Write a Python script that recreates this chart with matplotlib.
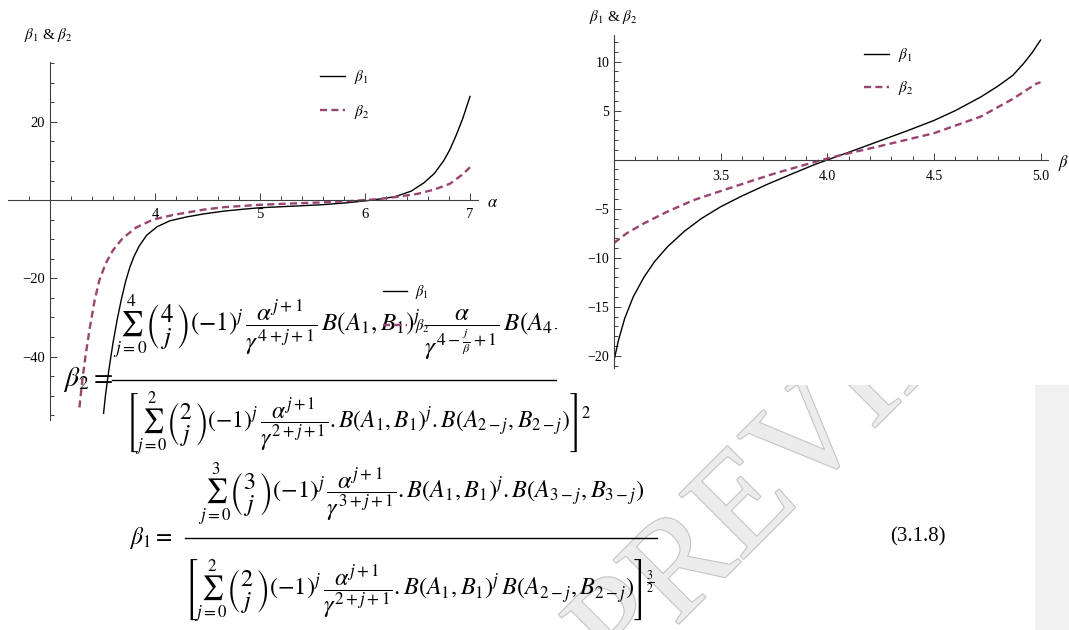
import matplotlib
matplotlib.use("Agg")
import matplotlib.pyplot as plt
import matplotlib.patheffects as pe
from matplotlib.lines import Line2D
from matplotlib.patches import Rectangle
import numpy as np

plt.rcParams['font.family'] = ['Liberation Serif', 'DejaVu Serif']
plt.rcParams['mathtext.fontset'] = 'stix'

# ---- valeurs ----
# panneau gauche : beta1 et beta2 en fonction de alpha
alpha_b1 = [3.51, 3.53, 3.56, 3.60, 3.64, 3.68, 3.72, 3.76, 3.80, 3.85, 3.92, 4.02, 4.14, 4.30, 4.47,
            4.66, 4.85, 5.0, 5.27, 5.58, 5.82, 6.0, 6.13, 6.29, 6.44, 6.56, 6.66, 6.75, 6.81, 6.87, 6.93, 7.0]
b1_alpha = [-54.5, -49.5, -43.5, -36.5, -30.5, -25.3, -20.8, -17.2, -14.4, -11.7, -9.0, -6.8, -5.3, -4.3, -3.5,
            -2.8, -2.3, -1.95, -1.6, -1.2, -0.7, -0.2, 0.25, 0.9, 2.3, 4.4, 6.8, 10.1, 13.0, 16.7, 20.8, 26.5]
alpha_b2 = [3.28, 3.31, 3.34, 3.38, 3.425, 3.47, 3.53, 3.60, 3.69, 3.82, 3.98, 4.17, 4.47, 4.66,
            5.0, 5.27, 5.58, 5.82, 6.0, 6.13, 6.32, 6.5, 6.66, 6.81, 6.87, 6.93, 7.0]
b2_alpha = [-53.0, -45.5, -39.5, -32.5, -25.6, -20.5, -16.2, -12.8, -9.8, -7.0, -5.0, -3.8, -2.4, -1.8,
            -1.2, -0.9, -0.6, -0.3, 0.0, 0.25, 0.9, 1.6, 2.7, 4.2, 5.4, 6.6, 8.4]

# panneau droit : beta1 et beta2 en fonction de beta
beta_b1 = [3.0, 3.02, 3.05, 3.09, 3.14, 3.19, 3.25, 3.33, 3.41, 3.5, 3.6, 3.72, 3.84, 3.94,
           4.01, 4.125, 4.25, 4.375, 4.5, 4.6, 4.72, 4.8, 4.87, 4.92, 4.96, 5.0]
b1_beta = [-20.5, -18.5, -16.2, -14.0, -12.0, -10.4, -8.9, -7.3, -6.0, -4.8, -3.7, -2.5, -1.4, -0.5,
           0.05, 0.95, 1.95, 2.95, 4.0, 5.0, 6.4, 7.5, 8.6, 9.8, 10.9, 12.2]
beta_b2 = [3.0, 3.06, 3.14, 3.25, 3.37, 3.5, 3.64, 3.76, 3.87, 3.97, 4.06, 4.25, 4.5, 4.72, 4.87, 4.98, 5.0]
b2_beta = [-8.5, -7.5, -6.5, -5.3, -4.15, -3.2, -2.2, -1.36, -0.68, -0.05, 0.45, 1.4, 2.7, 4.4, 6.2, 7.75, 7.9]

left_xticks = [4, 5, 6, 7]
left_xlabels = ['4', '5', '6', '7']
left_yticks = [20, -20, -40]
left_ylabels = ['20', '\u221220', '\u221240']
right_xticks = [3.5, 4.0, 4.5, 5.0]
right_xlabels = ['3.5', '4.0', '4.5', '5.0']
right_yticks = [10, 5, -5, -10, -15, -20]
right_ylabels = ['10', '5', '\u22125', '\u221210', '\u221215', '\u221220']

W, H = 1069, 630
fx = lambda px: px / W
fy = lambda py: 1 - py / H

purple = '#994471'
axcol = '#404040'

fig = plt.figure(figsize=(10.69, 6.30), dpi=100)


def style_axes(ax, x0, fs, padx):
    for s in ['top', 'right']:
        ax.spines[s].set_visible(False)
    ax.spines['left'].set_position(('data', x0))
    ax.spines['bottom'].set_position(('data', 0))
    for s in ['left', 'bottom']:
        ax.spines[s].set_color(axcol)
        ax.spines[s].set_linewidth(0.8)
    ax.tick_params(which='both', direction='in', color=axcol, width=0.7, labelsize=fs)
    ax.tick_params(which='major', length=5)
    ax.tick_params(which='minor', length=3)
    ax.tick_params(axis='x', pad=padx)
    ax.tick_params(axis='y', pad=3.5)
    ax.patch.set_visible(False)


# ---------------- panneau gauche ----------------
ax1 = fig.add_axes([fx(8), fy(420), fx(478) - fx(8), fy(62) - fy(420)], zorder=2)
ax1.plot(alpha_b1, b1_alpha, color='black', lw=1.0, label=r'$\beta_1$')
ax1.plot(alpha_b2, b2_alpha, color=purple, lw=1.7, dashes=(3, 1.8), label=r'$\beta_2$')
ax1.set_xlim(2.6, 7.076)
ax1.set_ylim(-56.2, 35.3)
style_axes(ax1, 3, 10.5, 5.5)
ax1.set_xticks(left_xticks)
ax1.set_xticklabels(left_xlabels)
ax1.set_yticks(left_yticks)
ax1.set_yticklabels(left_ylabels)
ax1.set_xticks(np.arange(2.8, 7.01, 0.2), minor=True)
ax1.set_yticks(np.arange(-55, 36, 5), minor=True)
ax1.text(fx(487), fy(203), r'$\alpha$', transform=fig.transFigure, fontsize=12, va='center')
ax1.text(fx(48), fy(35), r'$\beta_1$ & $\beta_2$', transform=fig.transFigure, fontsize=11,
         ha='center', va='center')
ax1.legend(loc='upper left', bbox_to_anchor=(fx(320), fy(68)), bbox_transform=fig.transFigure,
           frameon=False, borderpad=0, borderaxespad=0, handlelength=1.65, handletextpad=0.55,
           labelspacing=1.1, fontsize=11)

# legende parasite (autre image superposee)
fig.legend(handles=ax1.get_lines(), loc='upper left', bbox_to_anchor=(fx(383), fy(283)),
           bbox_transform=fig.transFigure, frameon=False, borderpad=0, borderaxespad=0,
           handlelength=1.65, handletextpad=0.55, labelspacing=1.1, fontsize=10.5)

# ---------------- panneau droit ----------------
ax2 = fig.add_axes([fx(614), fy(368), fx(1048) - fx(614), fy(35) - fy(368)], zorder=5)
ax2.plot(beta_b1, b1_beta, color='black', lw=1.0, label=r'$\beta_1$')
ax2.plot(beta_b2, b2_beta, color=purple, lw=1.7, dashes=(3, 1.8), label=r'$\beta_2$')
ax2.set_xlim(3.0, 5.035)
ax2.set_ylim(-21.25, 12.72)
style_axes(ax2, 3.0, 10, 7.5)
ax2.set_xticks(right_xticks)
ax2.set_xticklabels(right_xlabels)
ax2.set_yticks(right_yticks)
ax2.set_yticklabels(right_ylabels)
ax2.set_xticks(np.arange(3.1, 5.01, 0.1), minor=True)
ax2.set_yticks(np.arange(-21, 13, 1), minor=True)
ax2.text(fx(1058), fy(163), r'$\beta$', transform=fig.transFigure, fontsize=12, va='center')
ax2.text(fx(613), fy(17), r'$\beta_1$ & $\beta_2$', transform=fig.transFigure, fontsize=11,
         ha='center', va='center')
ax2.legend(loc='upper left', bbox_to_anchor=(fx(864), fy(46)), bbox_transform=fig.transFigure,
           frameon=False, borderpad=0, borderaxespad=0, handlelength=1.65, handletextpad=0.55,
           labelspacing=1.0, fontsize=11)

# fond blanc de l'image de droite et bande grise
fig.add_artist(Rectangle((fx(557), fy(385)), 1 - fx(557), 1 - fy(385), transform=fig.transFigure,
                         facecolor='white', edgecolor='none', zorder=4))
fig.add_artist(Rectangle((fx(1035), 0), 1 - fx(1035), fy(385), transform=fig.transFigure,
                         facecolor='#f0f0f0', edgecolor='none', zorder=1))

# filigrane
fig.text(fx(815), fy(440), 'PREVIEW', rotation=45, fontsize=100, color='#ececec',
         ha='center', va='center', zorder=1,
         path_effects=[pe.withStroke(linewidth=1.6, foreground='#c4c4c4')])

# ---------------- equations ----------------
eq2_num = (r"$\sum_{j=0}^{4}\genfrac{(}{)}{0}{0}{4}{j}(-1)^{j}\,\dfrac{\alpha^{j+1}}{\gamma^{4+j+1}}\,"
           r"B\left(A_1,B_1\right)^{j}\;\dfrac{\alpha}{\gamma^{4-\frac{j}{\beta}+1}}\,"
           r"B\left(A_{4-j},B_{4-j}\right)$")
eq2_den = (r"$\left[\sum_{j=0}^{2}\genfrac{(}{)}{0}{0}{2}{j}(-1)^{j}\,\dfrac{\alpha^{j+1}}{\gamma^{2+j+1}}"
           r".B\left(A_1,B_1\right)^{j}.B\left(A_{2-j},B_{2-j}\right)\right]^{2}$")
eq1_num = (r"$\sum_{j=0}^{3}\genfrac{(}{)}{0}{0}{3}{j}(-1)^{j}\,\dfrac{\alpha^{j+1}}{\gamma^{3+j+1}}"
           r".B\left(A_1,B_1\right)^{j}.B\left(A_{3-j},B_{3-j}\right)$")
eq1_den = (r"$\left[\sum_{j=0}^{2}\genfrac{(}{)}{0}{0}{2}{j}(-1)^{j}\,\dfrac{\alpha^{j+1}}{\gamma^{2+j+1}}"
           r".B\left(A_1,B_1\right)^{j}\,B\left(A_{2-j},B_{2-j}\right)\right]^{\frac{3}{2}}$")

fig.text(fx(63), fy(380), r'$\beta_2=$', fontsize=20, va='center', zorder=3)
fig.text(fx(113), fy(327), eq2_num, fontsize=18, va='center', zorder=3)
fig.add_artist(Line2D([fx(112), fx(700)], [fy(380), fy(380)], color='black', lw=1.0, zorder=3))
fig.text(fx(125), fy(424), eq2_den, fontsize=17, va='center', zorder=3)

fig.text(fx(130), fy(538), r'$\beta_1=$', fontsize=17, va='center', zorder=3)
fig.text(fx(198), fy(494), eq1_num, fontsize=17.5, va='center', zorder=3)
fig.add_artist(Line2D([fx(185), fx(657)], [fy(538), fy(538)], color='black', lw=1.0, zorder=3))
fig.text(fx(184), fy(590), eq1_den, fontsize=17.5, va='center', zorder=3)
fig.text(fx(890), fy(537), '(3.1.8)', fontsize=15, va='center', zorder=3)

fig.savefig('out.png', dpi=100)
